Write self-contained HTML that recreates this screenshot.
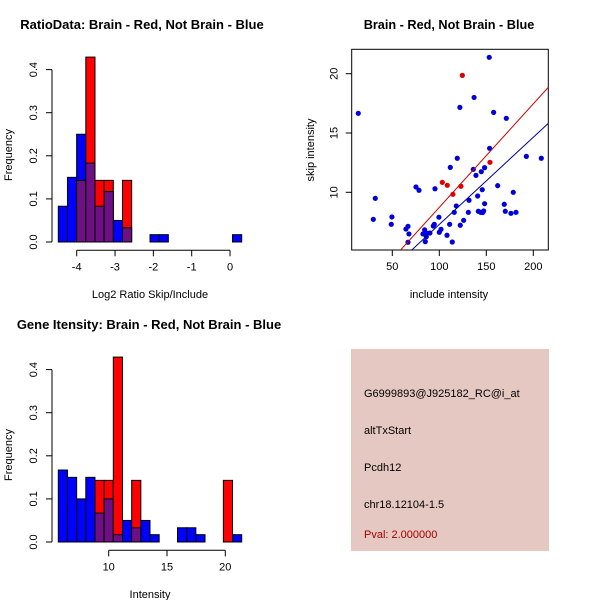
<!DOCTYPE html>
<html><head><meta charset="utf-8"><style>
html,body{margin:0;padding:0;background:#fff;}
svg{display:block;font-family:"Liberation Sans",sans-serif;}
</style></head><body>
<svg id="c" width="600" height="600" viewBox="0 0 600 600"></svg>
<script>
// ---- Data ----
const ratioBins = 20;
const ratioBlue = [0.083,0.15,0.25,0.183,0.083,0.117,0.05,0.033,0,0,0.017,0.017,0,0,0,0,0,0,0,0.017];
const ratioRed  = [0,0,0.143,0.429,0.143,0.143,0,0.143,0,0,0,0,0,0,0,0,0,0,0,0];
const ratioTickVals = [-4,-3,-2,-1,0];
const ratioTickLabels = ["-4","-3","-2","-1","0"];
const intBlue = [0.167,0.15,0.1,0.15,0.067,0.1,0.017,0.05,0.033,0.05,0.017,0,0,0.033,0.033,0.017,0,0,0,0.017];
const intRed  = [0,0,0,0,0.143,0.143,0.429,0,0.143,0,0,0,0,0,0,0,0,0,0.143,0];
const intTickVals = [10,15,20];
const freqTicks = [0,0.1,0.2,0.3,0.4];
const freqTickLabels = ["0.0","0.1","0.2","0.3","0.4"];
const blueX = [13.8,29.8,31.9,49.6,48.9,64.5,66.7,67.7,66.7,75.2,78.4,82.6,84.4,86.2,85.1,86.5,90,93.6,94.7,95.4,99.6,100,101.8,108.2,111,111.7,113.8,115.9,118.1,119.1,121.9,122.3,125.9,130.9,131.6,136.2,137,139,140.8,141.5,144,144.7,146.1,145.7,147.2,148.2,148.2,153.1,153.5,157.8,162.1,169.1,170.2,171.3,176.2,178.7,181.6,192.6,208.5];
const blueY = [16.66,7.72,9.49,7.92,7.3,6.9,7.13,6.49,5.79,10.45,10.17,6.49,6.83,6.26,5.84,6.55,6.57,7.16,7.3,10.3,7.9,6.63,6.88,6.38,7.3,12.1,5.81,8.31,8.85,12.87,17.16,7.22,7.64,8.31,9.33,11.94,18.0,11.43,9.69,8.4,8.31,11.74,8.29,10.22,8.43,9.04,12.08,21.38,13.71,16.74,10.56,8.99,8.4,16.24,8.23,10.0,8.31,13.03,12.87];
const redX = [124.5,103.2,108.5,114.5,123,153.9];
const redY = [19.86,10.84,10.59,9.83,10.51,12.53];
const redLine = [0.0873, 0.0];   // slope, intercept
const blueLine = [0.0735, -0.06];
const scXTicks = [50,100,150,200];
const scYTicks = [10,15,20];

const NS="http://www.w3.org/2000/svg";
const svg=document.getElementById('c');
function mk(tag,attrs,parent){const e=document.createElementNS(NS,tag);for(const k in attrs)e.setAttribute(k,attrs[k]);(parent||svg).appendChild(e);return e;}
function txt(s,x,y,attrs){const e=mk('text',Object.assign({x:x,y:y},attrs||{}));e.textContent=s;return e;}

// ---- Histogram drawer ----
function hist(oy,blue,red,title,xlabel,tickVals,tickLabels,xScale,titleX){
  const g=mk('g',{});
  
  
  const y0=242+oy, pxPer=431;
  const yS=v=>y0-v*pxPer;
  const bx0=58.3, bw=9.17;
  for(let i=0;i<blue.length;i++){
    const b=blue[i], r=red[i], mx=Math.max(b,r), mn=Math.min(b,r);
    if(mx<=0) continue;
    const x=bx0+i*bw;
    const col = b>=r ? '#0000ff' : '#ff0000';
    const top=mk('rect',{x:x,y:yS(mx),width:bw,height:yS(0)-yS(mx),fill:col,stroke:'#000','stroke-width':1},g);
    
    
    if(mn>0){
      const p=mk('rect',{x:x,y:yS(mn),width:bw,height:yS(0)-yS(mn),fill:'#6f0f84',stroke:'#000','stroke-width':1},g);
      
      
    }
  }
  mk('line',{x1:52,y1:yS(0),x2:52,y2:yS(0.4),stroke:'#000'},g);
  freqTicks.forEach((v,i)=>{
    mk('line',{x1:46,y1:yS(v),x2:52,y2:yS(v),stroke:'#000'},g);
    txt(freqTickLabels[i],37,yS(v),{'font-size':11,'text-anchor':'middle',transform:`rotate(-90 37 ${yS(v)})`});
  });
  const yl=txt('Frequency',12,oy+155,{'font-size':11,'text-anchor':'middle',transform:`rotate(-90 12 ${oy+155})`});
  
  
  const ay=250.3+oy;
  const xs=tickVals.map(xScale);
  mk('line',{x1:xs[0],y1:ay,x2:xs[xs.length-1],y2:ay,stroke:'#000'},g);
  xs.forEach((x,i)=>{
    mk('line',{x1:x,y1:ay,x2:x,y2:ay+6,stroke:'#000'},g);
    txt(tickLabels[i],x,ay+20,{'font-size':11,'text-anchor':'middle'});
  });
  const xl=txt(xlabel,150,oy+298,{'font-size':11,'text-anchor':'middle'});
  
  
  const tt=txt(title,titleX,oy+29,{'font-size':13,'font-weight':'bold','text-anchor':'middle'});
  
  
}
hist(0,ratioBlue,ratioRed,'RatioData: Brain - Red, Not Brain - Blue','Log2 Ratio Skip/Include',ratioTickVals,ratioTickLabels,v=>76.7+(v+4)*38.33,142);
hist(300,intBlue,intRed,'Gene Itensity: Brain - Red, Not Brain - Blue','Intensity',intTickVals,intTickVals.map(String),v=>108.7+(v-10)*11.66,149);

// ---- Scatter ----
const sg=mk('g',{});


const sx=v=>392.3+(v-50)*0.94;
const sy=v=>192.3-(v-10)*11.86;
const L=351.7,R=548.3,T=49.3,B=250;
mk('rect',{x:L,y:T,width:R-L,height:B-T,fill:'none',stroke:'#000'},sg);
const cp=mk('clipPath',{id:'cp'},sg);mk('rect',{x:L,y:T,width:R-L,height:B-T},cp);
function regLine(p,col,name){
  const xa=(L-392.3)/0.94+50, xb=(R-392.3)/0.94+50;
  const l=mk('line',{x1:sx(xa),y1:sy(p[0]*xa+p[1]),x2:sx(xb),y2:sy(p[0]*xb+p[1]),stroke:col,'stroke-width':1,'clip-path':'url(#cp)'},sg);
  
  
}
blueX.forEach((x,i)=>{
  const c=mk('circle',{cx:sx(x),cy:sy(blueY[i]),r:2.6,fill:'#0000dd','clip-path':'url(#cp)'},sg);
  
  
});
redX.forEach((x,i)=>{
  const c=mk('circle',{cx:sx(x),cy:sy(redY[i]),r:2.6,fill:'#dd0000','clip-path':'url(#cp)'},sg);
  
  
});
regLine(redLine,'#cc0000','red-fit-line');
regLine(blueLine,'#000099','blue-fit-line');
scXTicks.forEach(v=>{mk('line',{x1:sx(v),y1:B,x2:sx(v),y2:B+6,stroke:'#000'},sg);txt(String(v),sx(v),B+20,{'font-size':11,'text-anchor':'middle'});});
scYTicks.forEach(v=>{mk('line',{x1:L-6,y1:sy(v),x2:L,y2:sy(v),stroke:'#000'},sg);txt(String(v),L-14,sy(v),{'font-size':11,'text-anchor':'middle',transform:`rotate(-90 ${L-14} ${sy(v)})`});});
const sxl=txt('include intensity',449,298,{'font-size':11,'text-anchor':'middle'});


const syl=txt('skip intensity',314,150,{'font-size':11,'text-anchor':'middle',transform:'rotate(-90 314 150)'});


const st=txt('Brain - Red, Not Brain - Blue',449,29,{'font-size':12.7,'font-weight':'bold','text-anchor':'middle'});



// ---- Info panel ----
const ig=mk('g',{});


mk('rect',{x:351,y:349,width:198,height:202,fill:'#e6c8c2'},ig);
const lines=[['G6999893@J925182_RC@i_at',397,'#000'],['altTxStart',434,'#000'],['Pcdh12',471,'#000'],['chr18.12104-1.5',508,'#000'],['Pval: 2.000000',538,'#a00000']];
lines.forEach(l=>{const t=txt(l[0],364,l[1],{'font-size':11,fill:l[2]});ig.appendChild(t);});
</script>
</body></html>
